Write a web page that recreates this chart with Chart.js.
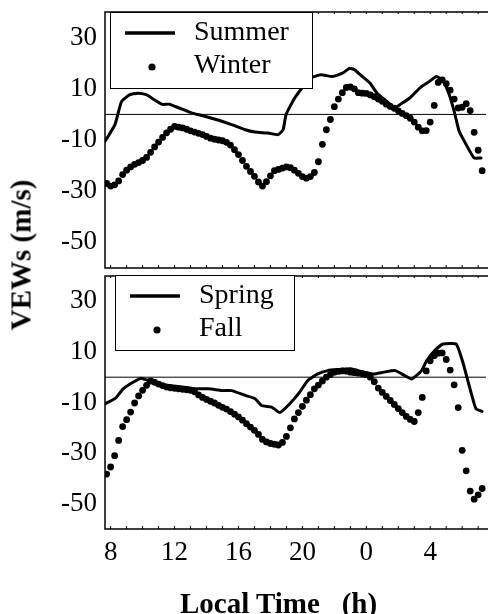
<!DOCTYPE html>
<html><head><meta charset="utf-8">
<script src="https://cdn.jsdelivr.net/npm/chart.js@4.4.0/dist/chart.umd.min.js"></script>
<style>
html,body{margin:0;padding:0;background:#fff;overflow:hidden;width:490px;height:614px;}
#wrap{position:relative;width:490px;height:614px;}
#c1{position:absolute;left:0;top:0;}
#c2{position:absolute;left:0;top:272px;}
.ytitle{position:absolute;left:21px;top:255px;font:bold 29px "Liberation Serif",serif;white-space:nowrap;transform:translate(-50%,-50%) rotate(-90deg);color:#000;}
.xtitle{position:absolute;left:180px;top:589px;font:bold 29px "Liberation Serif",serif;line-height:29px;white-space:pre;color:#000;}
</style></head>
<body><div id="wrap">
<canvas id="c1" width="490" height="272"></canvas>
<canvas id="c2" width="490" height="342"></canvas>
<div class="ytitle">VEWs (m/s)</div>
<div class="xtitle">Local Time   (h)</div>
</div>
<script>
// ---- data ----
const xTickValues = [8, 12, 16, 20, 24, 28];
const xTickLabels = ['8', '12', '16', '20', '0', '4'];
const yTickValues = [30, 10, -10, -30, -50];

const summerHours = [7.65,8.27,8.68,9.2,9.69,10.23,10.74,11.24,11.67,12.29,13.1,13.94,14.77,15.57,16.42,17.04,17.86,18.48,18.79,18.98,19.52,20.14,20.53,21.15,21.89,22.51,22.94,23.25,23.62,24.24,24.67,25.29,25.79,26.1,26.72,27.34,27.96,28.39,28.82,29.19,29.5,29.81,30.25,30.74,31.18];
const summerValues = [-10.5,-4,5,7.7,8.3,7.7,5.7,3.9,4,2.5,0.5,-0.8,-2.3,-4,-6,-6.9,-7.3,-7.9,-6,0,6.4,11.6,14.2,15.5,14.8,16.1,18,17.5,15.5,12.2,8.3,5.1,2.5,3.8,6.4,10.3,12.9,14.8,12.9,7.7,1.2,-6.6,-11.8,-17,-17];

const springHours = [7.65,8.06,8.37,8.78,9.4,9.92,10.33,10.95,11.67,12.5,13.33,14.15,14.97,15.57,16.42,17.04,17.45,18.07,18.59,19.21,19.83,20.34,20.96,21.58,22.2,23.02,23.85,24.47,25.09,25.81,26.33,26.84,27.46,27.77,28.28,28.8,29.63,30.04,30.35,30.66,30.87,31.24];
const springValues = [-10.5,-9.2,-7.9,-4.6,-2,-0.4,-1.3,-2.6,-3.3,-3.9,-4.6,-4.6,-5.3,-5.3,-7.2,-8.5,-11.2,-11.8,-14,-10.5,-5.9,-1.3,1.3,2.6,3,3.3,2,1.3,2,2.6,0.9,-0.7,2.6,6.5,10.5,13.1,13.1,5.9,-1.3,-8.5,-12.5,-13.5];

const dotHours = [7.75,8,8.25,8.5,8.75,9,9.25,9.5,9.75,10,10.25,10.5,10.75,11,11.25,11.5,11.75,12,12.25,12.5,12.75,13,13.25,13.5,13.75,14,14.25,14.5,14.75,15,15.25,15.5,15.75,16,16.25,16.5,16.75,17,17.25,17.5,17.75,18,18.25,18.5,18.75,19,19.25,19.5,19.75,20,20.25,20.5,20.75,21,21.25,21.5,21.75,22,22.25,22.5,22.75,23,23.25,23.5,23.75,24,24.25,24.5,24.75,25,25.25,25.5,25.75,26,26.25,26.5,26.75,27,27.25,27.5,27.75,28,28.25,28.5,28.75,29,29.25,29.5,29.75,30,30.25,30.5,30.75,31,31.25];

const winterValues = [-27,-28,-27.5,-26,-23.5,-21.8,-20.5,-19.5,-18.8,-18,-16.8,-14.8,-12.7,-10.8,-9,-7.2,-5.8,-4.7,-5,-5.3,-5.8,-6.4,-6.9,-7.4,-7.9,-8.6,-9.3,-9.7,-10,-10.3,-10.9,-12,-13.8,-15.7,-18,-20.3,-22.3,-24.2,-26.4,-28,-26.3,-24,-22,-21.5,-21,-20.5,-20.8,-21.8,-23,-24.3,-24.9,-24.3,-22.7,-18.5,-11.7,-6,-2,3,6,8.5,10.5,10.7,10,8.5,8.3,8.2,7.6,6.9,6,5.1,4,3.1,2.4,1.4,0.4,-0.5,-1.5,-3,-5,-6.4,-6.3,-3,3.5,12.5,13.5,12,9.5,6,2.5,2.8,4.2,1.5,-7,-14,-22];

const fallValues = [-38.3,-35.5,-31,-25,-19.5,-16.8,-13.8,-10.2,-7.4,-5.2,-3.2,-1.5,-2,-2.7,-3.3,-3.9,-4.2,-4.4,-4.6,-4.8,-5,-5.2,-5.8,-7,-8,-8.8,-9.5,-10.2,-11.1,-11.9,-12.6,-13.6,-14.6,-15.7,-17,-18.4,-19.7,-21,-22.6,-24.6,-25.6,-26.2,-26.5,-26.8,-25.8,-23.4,-20,-16.5,-14,-11.5,-9.1,-6.9,-4.6,-3.1,-1.5,0,1,2,2.3,2.5,2.4,2,1.8,1.6,1.4,1,0,-1.8,-4.3,-6,-7.6,-9.2,-10.8,-12.4,-14,-15.5,-16.7,-17.5,-14,-8,2.5,6.5,8.5,9.5,9.6,7,2.8,-3,-12,-28.9,-37,-45,-48.2,-46.5,-44];

// ---- helpers ----
const pts = (xs, ys) => xs.map((x, i) => ({x: x, y: ys[i]}));
const FONT = '"Liberation Serif", serif';

const framePlugin = {
  id: 'frame',
  beforeDatasetsDraw(chart) {
    const {ctx, chartArea: a, scales} = chart;
    ctx.save();
    ctx.strokeStyle = '#000';
    const y0 = scales.y.getPixelForValue(0);
    ctx.lineWidth = 1;
    ctx.beginPath(); ctx.moveTo(a.left, y0); ctx.lineTo(a.right, y0); ctx.stroke();
    ctx.restore();
  },
  afterDraw(chart) {
    const {ctx, chartArea: a, scales} = chart;
    ctx.save();
    ctx.strokeStyle = '#000';
    ctx.lineWidth = 1.5;
    ctx.beginPath();
    ctx.moveTo(a.right + 2, a.top); ctx.lineTo(a.left, a.top); ctx.lineTo(a.left, a.bottom); ctx.lineTo(a.right + 2, a.bottom);
    ctx.stroke();
    ctx.lineWidth = 1;
    ctx.beginPath();
    for (let h = Math.ceil(scales.x.min); h <= scales.x.max; h++) {
      const px = scales.x.getPixelForValue(h);
      ctx.moveTo(px, a.bottom); ctx.lineTo(px, a.bottom - 3);
      ctx.moveTo(px, a.top); ctx.lineTo(px, a.top + 2);
    }
    ctx.stroke();
    const lb = chart.options.plugins.boxLegend;
    if (lb) {
      ctx.fillStyle = '#fff';
      ctx.fillRect(lb.x, lb.y, lb.w, lb.h);
      ctx.lineWidth = 1;
      ctx.strokeRect(lb.x + 0.5, lb.y + 0.5, lb.w, lb.h);
      ctx.font = '28px ' + FONT;
      ctx.fillStyle = '#000';
      ctx.textBaseline = 'middle';
      ctx.textAlign = 'left';
      chart.data.datasets.forEach((ds, i) => {
        const yy = lb.y + (i === 0 ? 21 : 54);
        if (ds.showLine) {
          ctx.lineWidth = 3.5;
          ctx.beginPath(); ctx.moveTo(lb.x + 15, yy); ctx.lineTo(lb.x + 65, yy); ctx.stroke();
        } else {
          ctx.beginPath(); ctx.arc(lb.x + 42, yy + 1, 3.6, 0, Math.PI * 2); ctx.fill();
        }
        ctx.fillText(ds.label, lb.x + 84, yy);
      });
    }
    ctx.restore();
  }
};

function makePanel(canvas, lineLabel, lineData, dotLabel, dotData, showX, padding, legendRect) {
  return new Chart(canvas, {
    type: 'scatter',
    data: {
      datasets: [
        {label: lineLabel, data: lineData, showLine: true, borderColor: '#000', borderWidth: 3,
         pointRadius: 0, tension: 0.15, borderJoinStyle: 'round', borderCapStyle: 'round'},
        {label: dotLabel, data: dotData, showLine: false, pointRadius: 3.4,
         pointBackgroundColor: '#000', pointBorderWidth: 0, pointBorderColor: '#000'}
      ]
    },
    options: {
      responsive: false, animation: false, devicePixelRatio: 1,
      layout: {padding: padding},
      plugins: {legend: {display: false}, tooltip: {enabled: false}, boxLegend: legendRect},
      scales: {
        x: {
          type: 'linear', min: 7.647, max: 31.49, display: showX,
          grid: {display: false, drawTicks: false}, border: {display: false},
          afterBuildTicks: s => { s.ticks = xTickValues.map(v => ({value: v})); },
          afterFit: s => {
            if (showX) s.height = 85; else s.height = 0;
            s.paddingLeft = 0; s.paddingRight = 0;
          },
          ticks: {font: {family: FONT, size: 27}, color: '#000', padding: 8, maxRotation: 0,
                  callback: (v) => xTickLabels[xTickValues.indexOf(v)]}
        },
        y: {
          min: -60, max: 40,
          grid: {display: false, drawTicks: false}, border: {display: false},
          afterBuildTicks: s => { s.ticks = yTickValues.map(v => ({value: v})); },
          afterFit: s => { s.width = 105; s.paddingTop = 0; s.paddingBottom = 0; },
          ticks: {font: {family: FONT, size: 27}, color: '#000', padding: 8}
        }
      }
    },
    plugins: [framePlugin]
  });
}

makePanel(document.getElementById('c1'), 'Summer', pts(summerHours, summerValues),
  'Winter', pts(dotHours, winterValues), false,
  {top: 12, bottom: 4, left: 0, right: 0}, {x: 110, y: 12, w: 202, h: 76});
makePanel(document.getElementById('c2'), 'Spring', pts(springHours, springValues),
  'Fall', pts(dotHours, fallValues), true,
  {top: 3, bottom: 0, left: 0, right: 0}, {x: 115, y: 3, w: 179, h: 75});
</script>
</body></html>
